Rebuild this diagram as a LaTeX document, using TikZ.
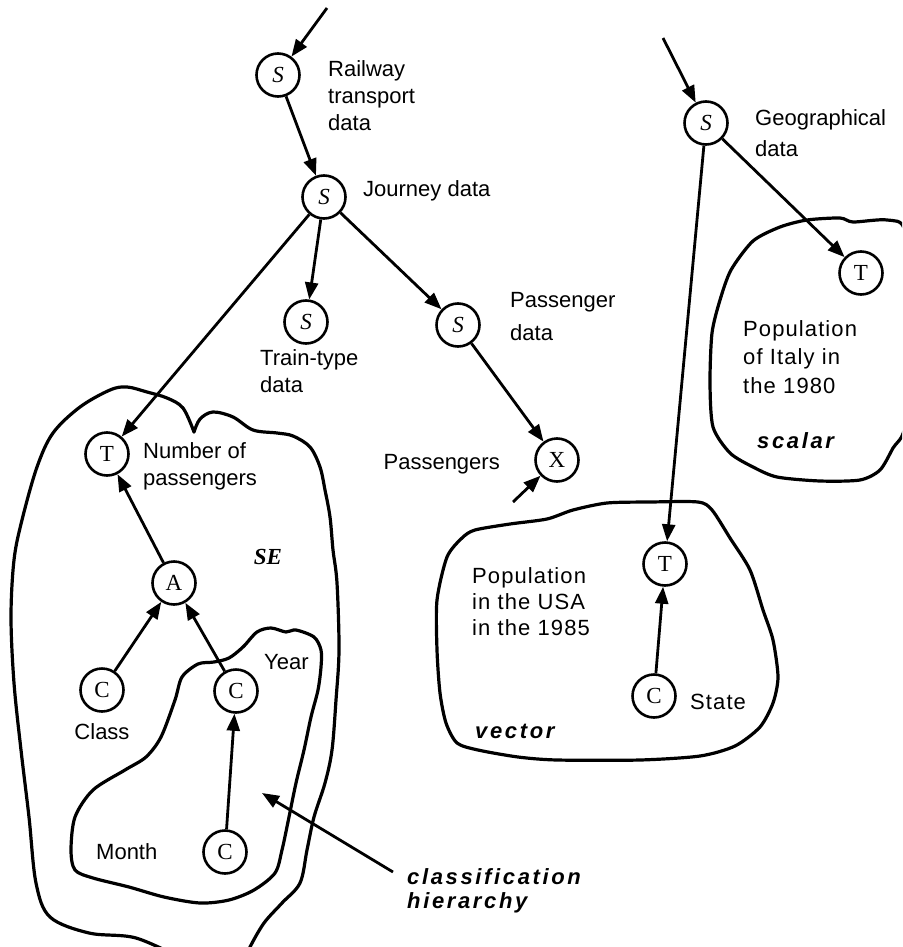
\documentclass[tikz,border=0pt]{standalone}
\usepackage{fontspec}
\setmainfont{Liberation Sans}
\newfontfamily\serifnode{Liberation Serif}
\usetikzlibrary{arrows.meta}
\begin{document}
\begin{tikzpicture}[x=1pt,y=-1pt,
  nd/.style={circle,draw,line width=2.6pt,minimum size=43pt,inner sep=0pt,
    font=\serifnode\fontsize{23}{23}\selectfont},
  lbl/.style={align=left,inner sep=0pt,font=\fontsize{22}{27}\selectfont},
  conn/.style={line width=2.8pt,-{Triangle[length=17pt,width=13pt]}},
  blob/.style={line width=3.2pt,line join=round,line cap=round},
  emph/.style={align=left,inner sep=0pt,
    font=\fontsize{22}{24}\selectfont\bfseries\itshape\addfontfeature{LetterSpace=12}}]
\useasboundingbox (0,0) rectangle (902,947);
\clip (0,0) rectangle (902,947);

% ---- blobs ----
% SE outer blob (two smooth pieces meeting at the notch)
\draw[blob] plot[smooth,tension=0.55] coordinates {
  (185,960) (136,938) (89,933) (50,917) (36,883) (29,817) (21,750) (14,683)
  (11,617) (14,560) (22,520) (37,467) (53,433) (80,407) (110,390) (127,387)
  (147,392) (167,398) (183,408) (194,432)};
\draw[blob] plot[smooth,tension=0.55] coordinates {
  (194,432) (200,419) (213,412) (233,417) (253,430) (277,433) (293,436)
  (310,447) (320,467) (325,490) (330,517) (333,550) (337,583) (339,650)
  (336,700) (332,750) (325,783) (314,817) (307,850) (300,883) (282,903)
  (264,923) (250,947) (245,960)};
% classification hierarchy blob
\draw[blob] plot[smooth cycle,tension=0.5] coordinates {
  (214,662) (229,658) (243,647) (257,632) (271,628) (286,632) (296,630)
  (314,637) (321,650) (321,667) (318,690) (311,717) (304,750) (296,783)
  (289,817) (282,850) (275,873) (254,890) (229,900) (200,903) (164,897)
  (129,887) (93,878) (75,870) (71,850) (75,817) (93,790) (125,770)
  (146,757) (161,737) (175,700) (182,677) (198,664)};
% vector blob
\draw[blob] plot[smooth cycle,tension=0.45] coordinates {
  (462,538) (475,530) (510,524) (547,519) (573,510) (607,503) (650,502)
  (698,502) (712,510) (730,538) (750,570) (763,610) (773,640) (778,677)
  (773,703) (760,727) (735,746) (700,756) (640,760) (557,760) (518,757)
  (478,750) (457,743) (446,723) (440,693) (437,650) (437,600) (447,557)};
% scalar blob
\draw[blob] plot[smooth cycle,tension=0.45] coordinates {
  (807,220) (840,218) (853,222) (887,220) (905,232) (906,330) (905,425)
  (893,448) (880,470) (860,480) (820,481) (777,477) (753,467) (730,453)
  (713,427) (710,383) (712,333) (720,300) (731,270) (753,241) (780,227)};

% ---- nodes ----
\node[nd] (s1) at (278,75) {\itshape S};
\node[nd] (s2) at (324,197) {\itshape S};
\node[nd] (s3) at (306,322) {\itshape S};
\node[nd] (s4) at (458,325) {\itshape S};
\node[nd] (x)  at (557,460) {X};
\node[nd] (t1) at (107,454) {T};
\node[nd] (a)  at (174,583) {A};
\node[nd] (cc) at (102,690) {C};
\node[nd] (cy) at (236,691) {C};
\node[nd] (cm) at (225,852) {C};
\node[nd] (s5) at (706,123) {\itshape S};
\node[nd] (ts) at (861,273) {T};
\node[nd] (tv) at (665,564) {T};
\node[nd] (cs) at (654,696) {C};

\coordinate (in1) at (327,8);
\coordinate (in2) at (663,38);
\coordinate (xin) at (513,502);
\coordinate (clsstart) at (393,872);
\coordinate (clstip) at (262,793);

% ---- labels ----
\node[lbl,anchor=west] (lrail) at (328,96) {Railway\\transport\\data};
\node[lbl,anchor=west] (ljour) at (363,191) {Journey data};
\node[lbl,anchor=west] (ltrain) at (260,371) {Train-type\\data};
\node[lbl,anchor=west,font=\fontsize{22}{33}\selectfont] (lpass) at (510,317) {Passenger\\data};
\node[lbl,anchor=east] (lpassengers) at (500,464) {Passengers};
\node[lbl,anchor=west] (lnum) at (143,466) {Number of\\passengers};
\node[font=\serifnode\fontsize{23}{23}\selectfont\bfseries\itshape,inner sep=0pt] (lse) at (268,557) {SE};
\node[lbl,anchor=center] (lclass) at (102,732) {Class};
\node[lbl,anchor=west] (lyear) at (264,662) {Year};
\node[lbl,anchor=west] (lmonth) at (96,852) {Month};
\node[emph,anchor=west] (lcls) at (407,891) {classification\\hierarchy};
\node[lbl,anchor=west,font=\fontsize{22}{31}\selectfont] (lgeo) at (755,133) {Geographical\\data};
\node[lbl,anchor=west,font=\fontsize{22}{28.5}\selectfont\addfontfeature{LetterSpace=5}] (lita) at (743,357) {Population\\of Italy in\\the 1980};
\node[emph,anchor=west] (lscalar) at (757,441) {scalar};
\node[lbl,anchor=west,font=\fontsize{22}{26}\selectfont\addfontfeature{LetterSpace=5}] (lusa) at (472,602) {Population\\in the USA\\in the 1985};
\node[emph,anchor=west] (lvector) at (475,731) {vector};
\node[lbl,anchor=west,font=\fontsize{22}{26}\selectfont\addfontfeature{LetterSpace=5}] (lstate) at (690,702) {State};

% ---- connectors ----
\draw[conn] (in1) -- (s1);
\draw[conn] (s1) -- (s2);
\draw[conn] (s2) -- (s3);
\draw[conn] (s2) -- (s4);
\draw[conn] (s2) -- (t1);
\draw[conn] (s4) -- (x);
\draw[conn] (xin) -- (x);
\draw[conn] (a) -- (t1);
\draw[conn] (cc) -- (a);
\draw[conn] (cy) -- (a);
\draw[conn] (cm) -- (cy);
\draw[conn] (in2) -- (s5);
\draw[conn] (s5) -- (tv);
\draw[conn] (s5) -- (ts);
\draw[conn] (cs) -- (tv);
\draw[conn] (clsstart) -- (clstip);
\end{tikzpicture}
\end{document}
